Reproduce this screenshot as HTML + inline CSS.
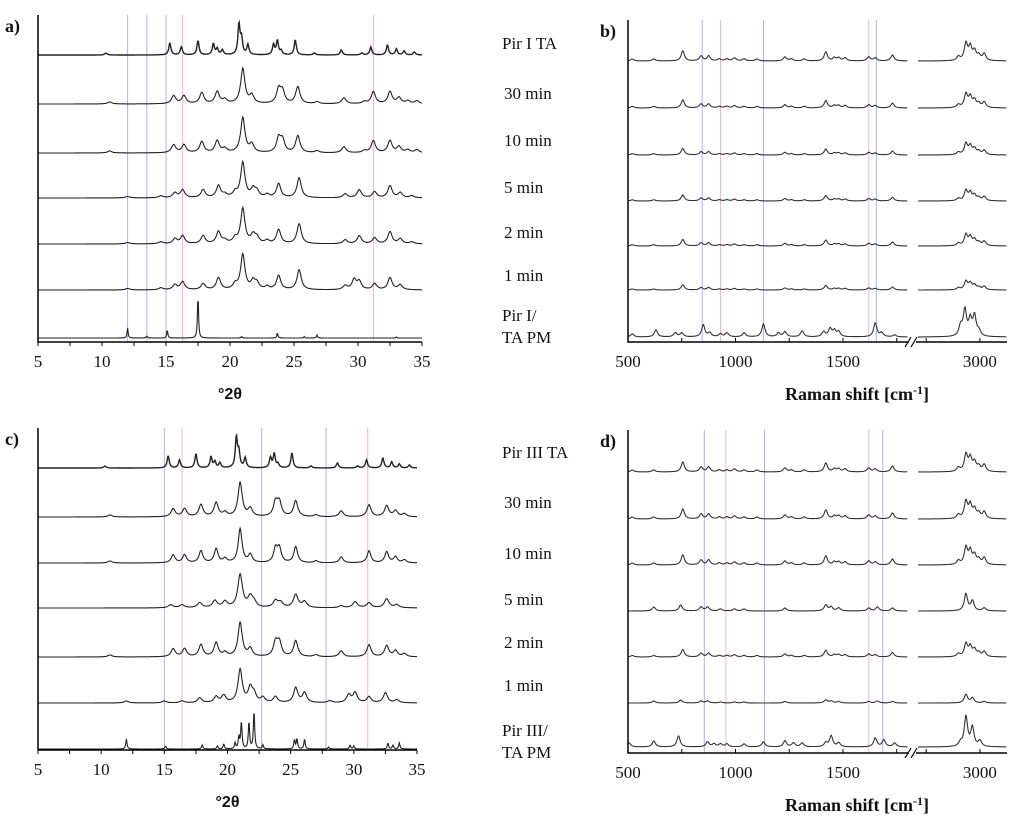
<!DOCTYPE html>
<html><head><meta charset="utf-8"><style>
html,body{margin:0;padding:0;background:#fff;}
svg{display:block;}
.lab{font-family:"Liberation Serif",serif;font-size:17px;fill:#111;}
.tick{font-family:"Liberation Serif",serif;font-size:17px;fill:#111;}
.pl{font-family:"Liberation Serif",serif;font-size:18px;font-weight:bold;fill:#111;}
</style></head><body>
<svg id="fig" width="1024" height="822" viewBox="0 0 1024 822" xmlns="http://www.w3.org/2000/svg"></svg>
<script>
// ---------- DATA ----------
const xrdTicks=[5,10,15,20,25,30,35];
const ramanTicks=[500,1000,1500,3000];
const labelsA=["Pir I TA","30 min","10 min","5 min","2 min","1 min"];
const labelsC=["Pir III TA","30 min","10 min","5 min","2 min","1 min"];
const pmA=["Pir I/","TA PM"];
const pmC=["Pir III/","TA PM"];
// XRD peaks [2theta, height px]
const xrdCoc=[[10.3,2],[15.3,12],[16.2,8],[17.5,14],[18.7,11],[19.0,6],[19.4,5],[20.7,30],[20.9,15],[21.4,10],[23.4,10],[23.7,14],[24.0,4],[25.1,15],[26.6,2],[28.7,5],[30.3,2],[31.0,8],[32.3,10],[33.0,6],[33.6,4],[34.4,3]];
const xrdA30=[[10.6,2],[15.6,8],[16.4,8],[17.8,11],[19.0,12],[19.6,4],[21.0,35],[21.7,8],[23.8,14],[24.1,12],[25.3,17],[26.8,2],[28.9,6],[30.5,2],[31.2,12],[32.5,12],[33.2,6],[33.9,3],[34.6,3]];
const xrdA5=[[12.0,1.5],[14.6,2],[15.7,5],[16.3,8],[17.9,8],[19.1,12],[19.6,3],[20.4,5],[21.0,35],[21.8,8],[22.1,6],[22.9,3],[23.8,14],[25.4,20],[29.0,4],[30.1,8],[31.3,6],[32.5,12],[33.3,5],[34.2,2]];
const xrdA1=[[12.0,1.5],[14.6,2],[15.7,5],[16.3,8],[17.9,6],[19.1,12],[20.4,5],[21.0,35],[21.8,8],[22.1,6],[22.9,3],[23.8,14],[25.4,20],[29.0,4],[29.7,10],[30.1,8],[31.3,6],[32.5,12],[33.3,5]];
const xrdAPM=[[12.0,10],[13.5,2],[15.1,8],[17.5,42],[20.9,1.5],[23.7,5],[25.8,1.5],[26.8,3],[33.0,1]];
const xrdC30=[[10.7,2],[15.7,8],[16.6,8],[17.9,12],[19.1,14],[19.8,4],[21.0,34],[21.8,8],[23.8,14],[24.1,14],[25.4,16],[27.0,2],[29.0,6],[31.2,12],[32.6,11],[33.3,6],[34.0,3]];
const xrdC5=[[15.5,3],[16.4,3],[17.8,5],[19.0,7],[19.8,6],[21.0,33],[21.8,10],[22.1,5],[23.8,7],[24.2,5],[25.4,13],[26.1,6],[29.0,2],[30.1,6],[31.2,5],[32.6,9],[33.4,3]];
const xrdC1=[[12.0,2],[15.0,2],[16.4,2],[17.8,5],[19.1,6],[19.7,7],[21.0,33],[21.8,14],[22.1,8],[22.8,5],[23.8,6],[25.4,15],[26.1,10],[28.1,2],[29.6,8],[30.1,10],[31.2,6],[32.5,10],[33.4,3]];
const xrdCPM=[[12.0,10],[15.1,3],[18.0,4],[19.2,3],[19.7,5],[20.6,6],[20.9,12],[21.1,27],[21.7,27],[22.1,38],[22.8,4],[25.3,9],[25.5,10],[26.1,10],[28.0,2],[29.7,4],[30.0,3],[32.7,6],[33.1,4],[33.6,6]];
// Raman peaks [cm-1, height px]
const ramCoc=[[520,2],[620,2],[755,10],[840,5],[875,5],[925,2],[960,2],[995,3],[1040,2],[1100,2],[1230,4],[1260,2],[1320,2],[1420,9],[1460,3],[1480,3],[1510,3],[1620,4],[1650,3],[1730,6],[2900,4],[2935,17],[2955,13],[2975,9],[2995,5],[3020,7]];
const ramBPM=[[520,3],[630,7],[720,4],[750,4],[850,12],[880,4],[930,3],[960,4],[1040,4],[1130,13],[1200,4],[1230,5],[1310,6],[1410,5],[1440,8],[1460,6],[1480,5],[1650,14],[1680,4],[1740,2],[2910,10],[2930,26],[2955,16],[2975,20],[2995,5]];
const ramD5=[[620,4],[745,6],[840,4],[870,4],[930,2],[995,2],[1040,2],[1230,3],[1420,6],[1445,4],[1480,3],[1620,3],[1660,4],[1730,3],[2935,17],[2965,10],[3020,3]];
const ramDPM=[[505,4],[620,6],[735,11],[870,5],[900,3],[930,3],[960,3],[1040,3],[1130,5],[1230,6],[1270,4],[1310,4],[1420,4],[1445,11],[1480,4],[1650,9],[1690,7],[1740,4],[2910,4],[2935,30],[2965,19],[3000,6]];
const scalesB=[1,0.8,0.65,0.6,0.65,0.5];
const scalesD=[1,1,1,1,0.75,0.5];

// ---------- DRAW ----------
const svg=document.getElementById('fig');
const NS='http://www.w3.org/2000/svg';
function mk(tag,attrs,parent){const e=document.createElementNS(NS,tag);for(const k in attrs)e.setAttribute(k,attrs[k]);(parent||svg).appendChild(e);return e;}
function txt(s,x,y,cls,anchor,name){const t=mk('text',{x:x,y:y,class:cls,'text-anchor':anchor||'start'});t.textContent=s;


return t;}

function xrdPanel(o){
  const g=mk('g',{});
  
  
  const xs=v=>o.x0+(v-5)*(o.x1-o.x0)/30;
  o.vlines.forEach(v=>{const l=mk('line',{x1:xs(v[0]),x2:xs(v[0]),y1:o.top,y2:o.bottom,stroke:v[1],'stroke-width':1},g);
    
    });
  o.traces.forEach((tr,i)=>{
    const w=tr.w;let d='';
    for(let t=5;t<=35.0001;t+=0.04){let y=0;tr.p.forEach(p=>{const u=(t-p[0])/w;y+=p[1]/(1+u*u);});
      d+=(d?'L':'M')+xs(t).toFixed(1)+','+(o.base[i]-y).toFixed(1);}
    const pa=mk('path',{d:d,fill:'none',stroke:'#222','stroke-width':tr.sw||1.1},g);
    
    
  });
  const ax=mk('path',{d:`M${o.x0},${o.top}V${o.bottom}H${o.x1}`,fill:'none',stroke:'#000','stroke-width':1.5},g);
  
  
  for(let v=5;v<=35;v+=2.5){mk('line',{x1:xs(v),x2:xs(v),y1:o.bottom,y2:o.bottom+4,stroke:'#000'},g);}
  xrdTicks.forEach(v=>txt(String(v),xs(v),o.bottom+25,'tick','middle','x-tick-label'));
  const at=txt('°2θ',(o.x0+o.x1)/2,o.bottom+57,'tick','middle','x-axis-title');
  at.setAttribute('style','font-family:"Liberation Sans",sans-serif;font-weight:bold;font-size:16px');
  txt(o.letter,5,o.top+17,'pl','start','panel-label');
}
function ramanPanel(o){
  const g=mk('g',{});
  
  
  const k=0.215;
  const xs=v=>v<=1800?628+(v-500)*k:918+(v-2712)*k;
  o.vlines.forEach(v=>{const l=mk('line',{x1:xs(v[0]),x2:xs(v[0]),y1:o.top,y2:o.bottom,stroke:v[1],'stroke-width':1},g);
    
    });
  o.traces.forEach((p,i)=>{
    const sc=o.scales[i]===undefined?1:o.scales[i];
    const f=t=>{let y=0;p.forEach(q=>{const u=(t-q[0])/9;y+=q[1]*sc/(1+u*u);});return o.base[i]-y;};
    let d='';
    for(let t=500;t<=1800;t+=3)d+=(d?'L':'M')+xs(t).toFixed(1)+','+f(t).toFixed(1);
    let d2='';
    for(let t=2712;t<=3125;t+=3)d2+=(d2?'L':'M')+xs(t).toFixed(1)+','+f(t).toFixed(1);
    const pa=mk('path',{d:d+d2.replace('M',' M'),fill:'none',stroke:'#333','stroke-width':1.1},g);
    
    
  });
  const ax=mk('path',{d:`M628,${o.top}V${o.bottom}H909 M916,${o.bottom}H1007`,fill:'none',stroke:'#000','stroke-width':1.5},g);
  
  
  mk('path',{d:`M905,${o.bottom+5}L911,${o.bottom-5}M911,${o.bottom+5}L917,${o.bottom-5}`,stroke:'#000','stroke-width':1.2,fill:'none'},g);
  [500,750,1000,1250,1500,1750,2750,3000].forEach(v=>mk('line',{x1:xs(v),x2:xs(v),y1:o.bottom,y2:o.bottom-4,stroke:'#000'},g));
  ramanTicks.forEach(v=>txt(String(v),xs(v),o.bottom+25,'tick','middle','x-tick-label'));
  const t=mk('text',{x:857,y:o.bottom+58,class:'tick','text-anchor':'middle',style:'font-weight:bold;font-size:18px'},g);
  
  
  t.innerHTML='Raman shift [cm<tspan dy="-6" font-size="12">-1</tspan><tspan dy="6">]</tspan>';
  txt(o.letter,600,o.top+17,'pl','start','panel-label');
}
function midLabels(labels,pm,ys){
  labels.forEach((s,i)=>txt(s,i==0?502:504,ys[i],'lab','start','trace-label'));
  txt(pm[0],502,ys[6],'lab','start','trace-label');
  txt(pm[1],502,ys[7],'lab','start','trace-label');
}
const B='#b0b0f0',P='#f0b0e0';
xrdPanel({name:'panel-a',letter:'a)',x0:38,x1:422,top:15,bottom:342,base:[55,104,153,198,244,290,338],
  vlines:[[12,B],[13.5,B],[15,B],[16.3,P],[31.2,P]],
  traces:[{p:xrdCoc,w:0.1,sw:1.4},{p:xrdA30,w:0.2},{p:xrdA30,w:0.2},{p:xrdA5,w:0.2},{p:xrdA5,w:0.2},{p:xrdA1,w:0.2},{p:xrdAPM,w:0.05}]});
xrdPanel({name:'panel-c',letter:'c)',x0:38,x1:417,top:428,bottom:750,base:[468,517,563,608,657,703,749],
  vlines:[[15,B],[16.4,P],[22.7,B],[27.8,B],[31.1,P]],
  traces:[{p:xrdCoc,w:0.1,sw:1.4},{p:xrdC30,w:0.2},{p:xrdC30,w:0.18},{p:xrdC5,w:0.22},{p:xrdC30,w:0.2},{p:xrdC1,w:0.2},{p:xrdCPM,w:0.06}]});
ramanPanel({name:'panel-b',letter:'b)',top:20,bottom:342,base:[61,108,155,201,246,290,337],scales:scalesB.concat([1]),
  vlines:[[845,B],[930,P],[1130,B],[1620,P],[1655,B]],
  traces:[ramCoc,ramCoc,ramCoc,ramCoc,ramCoc,ramCoc,ramBPM]});
ramanPanel({name:'panel-d',letter:'d)',top:430,bottom:753,base:[472,519,565,611,657,703,747],scales:scalesD.concat([1]),
  vlines:[[855,B],[955,P],[1135,B],[1620,P],[1685,B]],
  traces:[ramCoc,ramCoc,ramCoc,ramD5,ramCoc,ramD5,ramDPM]});
midLabels(labelsA,pmA,[49,99,146,193,238,281,321,343]);
midLabels(labelsC,pmC,[458,508,559,605,648,691,736,758]);
</script>
</body></html>
